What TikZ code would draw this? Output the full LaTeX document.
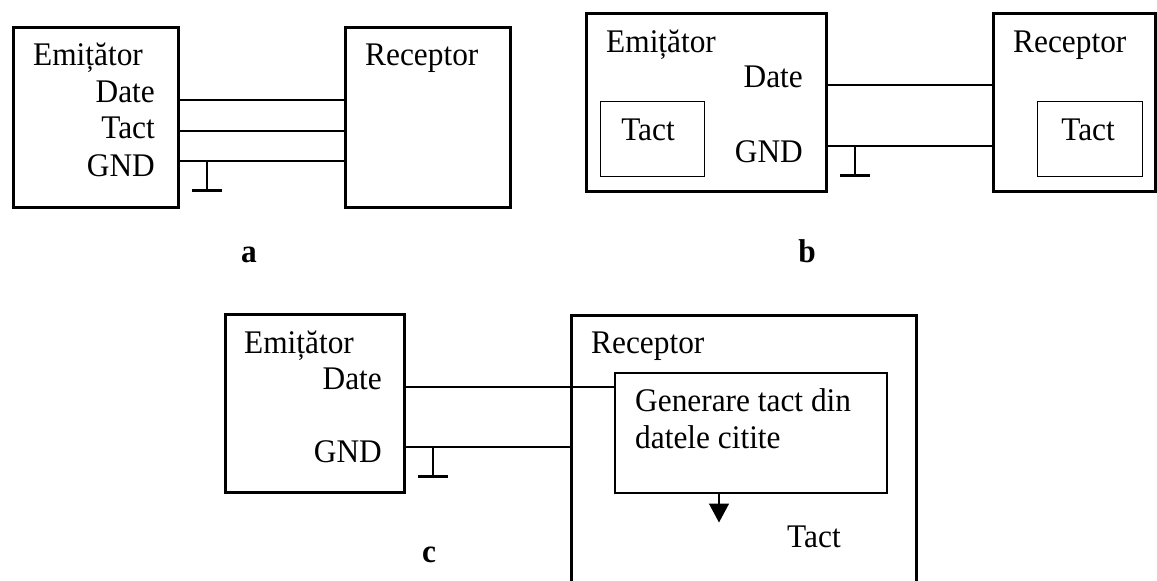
\documentclass[tikz,border=0pt]{standalone}
\usepackage{fontspec}
\setmainfont{Liberation Serif}[FakeStretch=0.95]
\usetikzlibrary{arrows.meta,calc}

\begin{document}
\begin{tikzpicture}[x=1pt,y=-1pt,
        blk/.style={draw=black,line width=3pt,inner sep=0pt,anchor=north west},
        sub/.style={draw=black,line width=1.5pt,inner sep=0pt,anchor=north west},
        txt/.style={inner sep=0pt,font=\fontsize{33}{39}\selectfont},
        tag/.style={inner sep=0pt,anchor=base,font=\fontsize{33}{39}\selectfont\bfseries},
        wire/.style={line width=1.5pt},
        gnd/.style={line width=3pt}]
    \useasboundingbox (0,0) rectangle (1157,581);
    \clip (0,0) rectangle (1157,581);

    % a
    \path   (11.5,25.5)  node (ea) [blk,minimum width=165pt,minimum height=180pt] {}
            (343.5,25.5) node (ra) [blk,minimum width=165pt,minimum height=180pt] {};
    \node (eat) [txt,anchor=base west] at (33,65) {Emițător};
    \node (adt) [txt,anchor=base east] at (155,102) {Date};
    \node (att) [txt,anchor=base east] at (155,138) {Tact};
    \node (agt) [txt,anchor=base east] at (155,176) {GND};
    \node (rat) [txt,anchor=base west] at (365,65) {Receptor};
    \node (la) [tag] at (249,262) {a};
    \path (ea.east |- 0,100) coordinate (ad)
          (ea.east |- 0,131) coordinate (at)
          (ea.east |- 0,161) coordinate (an)
          (207,161) coordinate (ag);
    \draw [wire] (ad) -- (ad -| ra.west);
    \draw [wire] (at) -- (at -| ra.west);
    \draw [wire] (an) -- (an -| ra.west);

    % b
    \path   (584.5,11.5)  node (eb) [blk,minimum width=240pt,minimum height=178pt] {}
            (991.5,11.5)  node (rb) [blk,minimum width=162pt,minimum height=178pt] {}
            (599.5,100.5) node (tb) [sub,minimum width=104pt,minimum height=75pt] {}
            (1036.5,100.5) node (tr) [sub,minimum width=105pt,minimum height=75pt] {};
    \node (ebt) [txt,anchor=base west] at (606,52) {Emițător};
    \node (bdt) [txt,anchor=base east] at (803,87) {Date};
    \node (bgt) [txt,anchor=base east] at (803,162) {GND};
    \node (tbt) [txt,anchor=base] at (648,140) {Tact};
    \node (rbt) [txt,anchor=base west] at (1013,52) {Receptor};
    \node (trt) [txt,anchor=base] at (1088,140) {Tact};
    \node (lb) [tag] at (807,262) {b};
    \path (eb.east |- 0,85) coordinate (bd)
          (eb.east |- 0,146) coordinate (bn)
          (855,146) coordinate (bg);
    \draw [wire] (bd) -- (bd -| rb.west);
    \draw [wire] (bn) -- (bn -| rb.west);

    % c
    \path   (223.5,312.5) node (ec) [blk,minimum width=179pt,minimum height=178pt] {}
            (569.5,313.5) node (rc) [blk,minimum width=345pt,minimum height=300pt] {}
            (614,372)     node (gen) [sub,minimum width=272pt,minimum height=120pt] {};
    \node (ect) [txt,anchor=base west] at (244,353) {Emițător};
    \node (cdt) [txt,anchor=base east] at (382,389) {Date};
    \node (cgt) [txt,anchor=base east] at (382,462) {GND};
    \node (rct) [txt,anchor=base west] at (591,353) {Receptor};
    \node (gent) [txt,anchor=base west] at (635,411) {Generare tact din};
    \node (gent2) [txt,anchor=base west] at (635,448) {datele citite};
    \node (ctt) [txt,anchor=base west] at (787,547) {Tact};
    \node (lc) [tag] at (429,562) {c};
    \path (ec.east |- 0,387) coordinate (cd)
          (ec.east |- 0,447) coordinate (cn)
          (433,447) coordinate (cg)
          (gen.south -| 719,0) coordinate (ck);
    \draw [wire] (cd) -- (cd -| gen.west);
    \draw [wire] (cn) -- (cn -| rc.west);
    \draw [wire,-{Triangle[width=20pt,length=19pt]}] (ck) -- ++(0,29);

    \foreach \g in {ag,bg,cg} {
        \draw [wire] (\g) -- ++(0,29);
        \draw [gnd] (\g) ++(-15,29) -- ++(30,0);
    }
\end{tikzpicture}
\end{document}
